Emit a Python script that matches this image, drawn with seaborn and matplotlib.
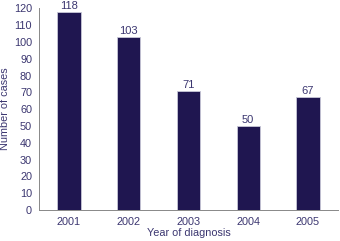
import matplotlib
matplotlib.use("Agg")
import matplotlib.pyplot as plt
import seaborn as sns
import pandas as pd
import numpy as np

years = ["2001", "2002", "2003", "2004", "2005"]
cases = [118, 103, 71, 50, 67]
yticks = list(range(0, 121, 10))

sns.set_style("white")
plt.rcParams['font.family'] = ['Liberation Sans', 'DejaVu Sans']

txt = "#3b3670"
bar_color = "#1f1650"

df = pd.DataFrame({"year": years, "cases": cases})
fig = plt.figure(figsize=(3.4, 2.41), dpi=100)
ax = fig.add_axes([0.1147, 0.1286, 0.879, 0.837])
sns.barplot(data=df, x="year", y="cases", color=bar_color, width=0.39,
            edgecolor="#c8c8d8", linewidth=0.6, saturation=1, ax=ax)

for i, v in enumerate(cases):
    ax.text(i, v + 1.8, str(v), ha="center", va="baseline", fontsize=8, color=txt)

ax.set_ylim(0, 120)
ax.set_xlim(-0.5, 4.5)
ax.set_yticks(yticks)
ax.set_yticklabels([str(t) for t in yticks], fontsize=7.8, color=txt)
ax.set_xticks(range(len(years)))
ax.set_xticklabels(years, fontsize=7.8, color=txt)
ax.set_xticks(np.arange(-0.5, 5, 1), minor=True)
ax.tick_params(axis="x", which="major", length=0, pad=5)
ax.tick_params(axis="x", which="minor", length=3, color="#888888", width=0.6, direction="out")
ax.tick_params(axis="y", length=3, color="#888888", width=0.6, direction="out", pad=2)
ax.set_xlabel("Year of diagnosis", fontsize=7.8, color=txt, labelpad=1)
ax.set_ylabel("Number of cases", fontsize=7.8, color=txt, labelpad=3)
for s in ["top", "right"]:
    ax.spines[s].set_visible(False)
for s in ["left", "bottom"]:
    ax.spines[s].set_color("#888888")
    ax.spines[s].set_linewidth(0.7)

fig.savefig("out.png", dpi=100)
